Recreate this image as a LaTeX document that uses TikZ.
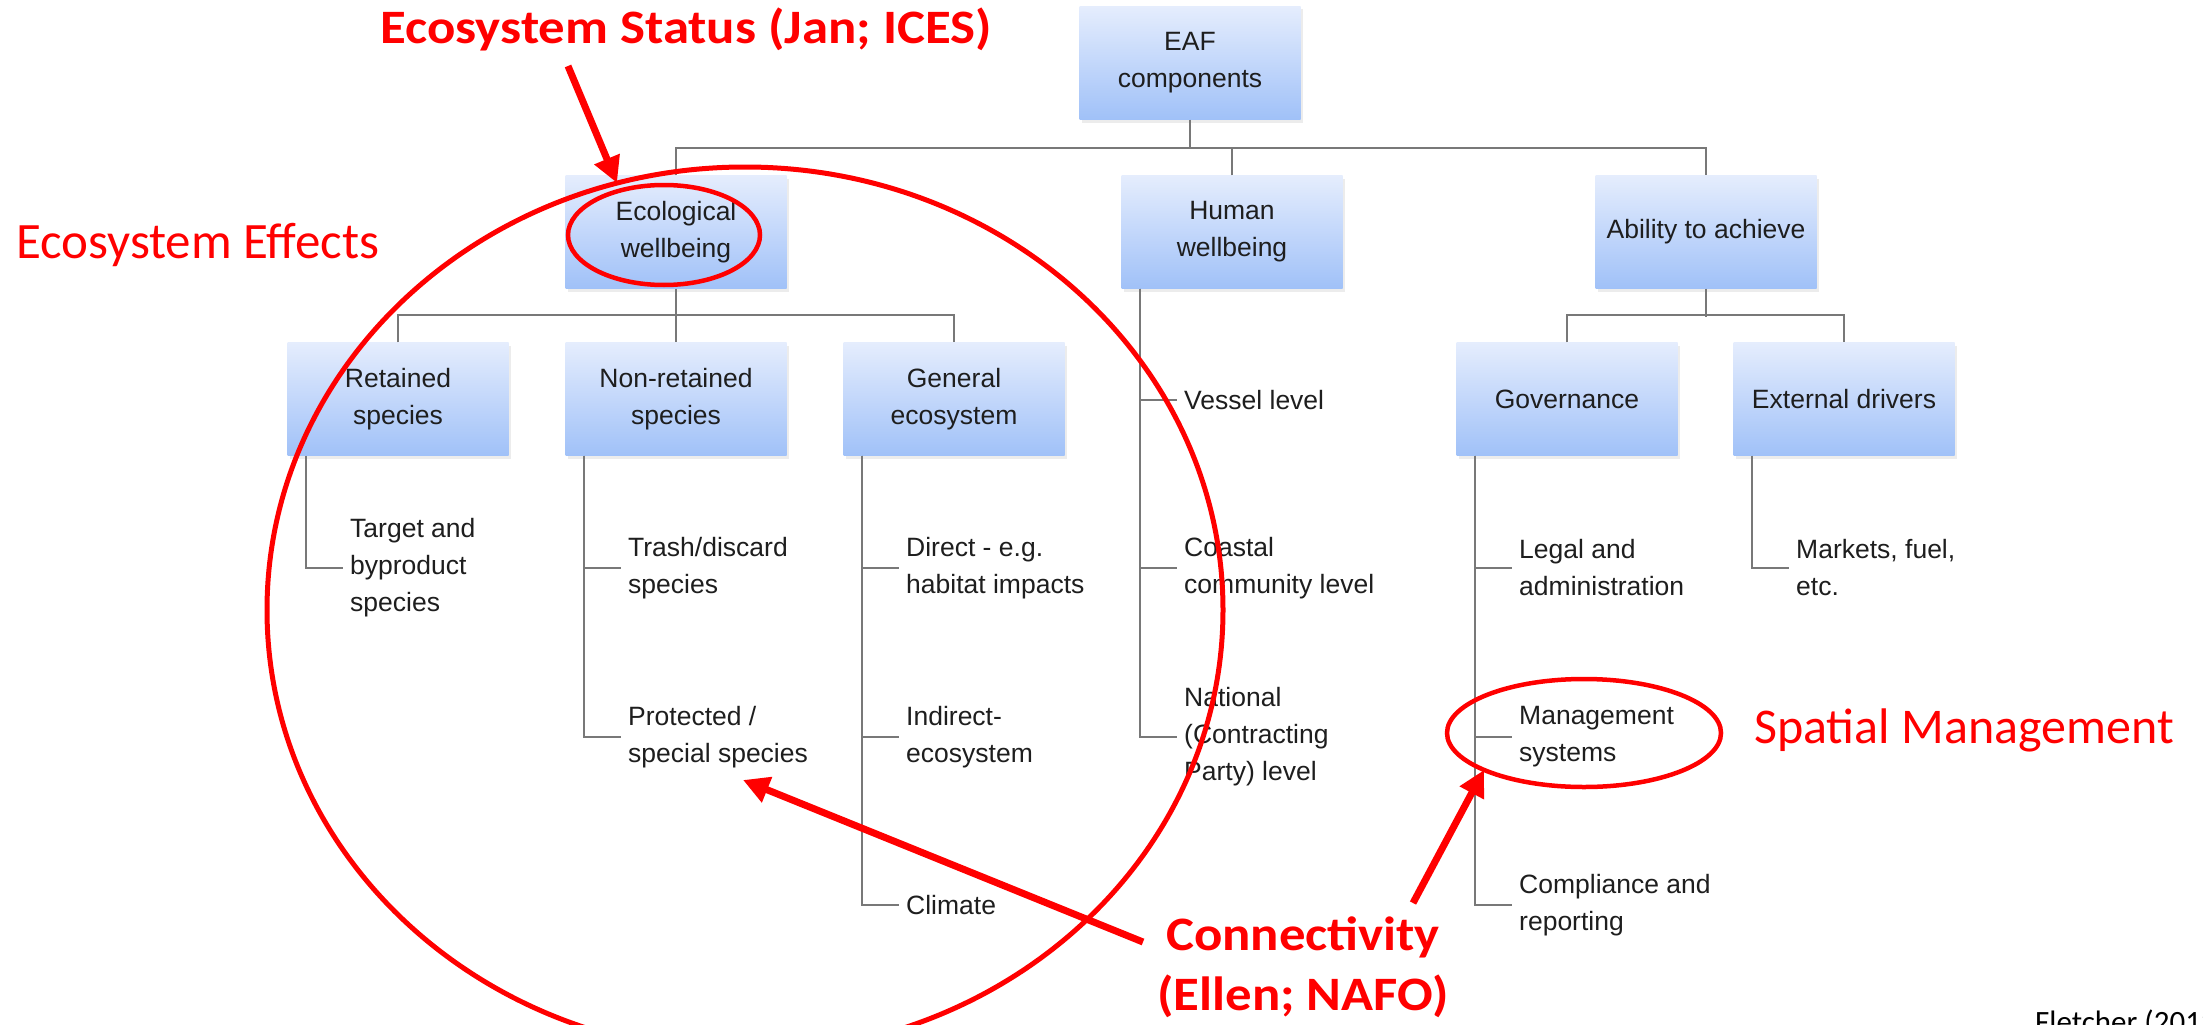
\documentclass[tikz,border=0pt]{standalone}
\usepackage{graphicx}
\usepackage{fontspec}
\setmainfont{Liberation Sans}
\newfontfamily\redfont{Carlito}
\usetikzlibrary{arrows.meta,shadows}
\definecolor{boxtop}{RGB}{229,237,253}
\definecolor{boxbot}{RGB}{160,193,248}
\definecolor{linegray}{RGB}{120,120,120}
\definecolor{txt}{RGB}{30,30,30}
\definecolor{annred}{RGB}{255,0,0}
\begin{document}
\begin{tikzpicture}[x=1pt,y=-1pt,
  box/.style={rectangle, minimum width=221pt, minimum height=113pt, inner sep=0pt, align=center,
    top color=boxtop, bottom color=boxbot, draw=none, font=\fontsize{26.5}{37}\selectfont, text=txt,
    drop shadow={opacity=0.15, shadow xshift=2pt, shadow yshift=-3pt}},
  leaf/.style={anchor=west, inner sep=0pt, align=left, font=\fontsize{26.5}{37}\selectfont, text=txt},
  conn/.style={draw=linegray, line width=1.8pt},
  leafconn/.style={conn, shorten >=7pt},
  ring/.style={draw=annred, line width=#1},
  redarrow/.style={draw=annred, line width=7pt, -{Triangle[length=26pt,width=26pt]}},
  redreg/.style={text=annred, inner sep=0pt, font=\fontsize{#1}{#1}\redfont},
  redbold/.style={text=annred, inner sep=0pt, font=\fontsize{#1}{#1}\redfont\bfseries}
]
\useasboundingbox (0,0) rectangle (2203,1025);
\fill[white] (0,0) rectangle (2203,1025);
\clip (0,0) rectangle (2203,1025);

% boxes
\node[box] (eaf) at (1190,63) {EAF\\components};
\node[box] (eco) at (676,232) {Ecological\\wellbeing};
\node[box] (hum) at (1232,232) {Human\\wellbeing};
\node[box] (abl) at (1706,232) {Ability to achieve};
\node[box] (ret) at (398,399) {Retained\\species};
\node[box] (non) at (676,399) {Non-retained\\species};
\node[box] (gen) at (954,399) {General\\ecosystem};
\node[box] (gov) at (1567,399) {Governance};
\node[box] (ext) at (1844,399) {External drivers};

% tree connectors
\draw[conn] (eaf.south) -- ++(0,29);
\draw[conn] (eco.north) -- ++(0,-27) -| (abl.north);
\draw[conn] (hum.north) -- ++(0,-27);
\draw[conn] (ret.north) -- ++(0,-27) -| (gen.north);
\draw[conn] (eco.south) -- (non.north);
\draw[conn] (gov.north) -- ++(0,-27) -| (ext.north);
\draw[conn] (abl.south) -- ++(0,28);

% leaves
\node[leaf] (tgt) at (350,568) {Target and\\byproduct\\species};
\node[leaf] (trs) at (628,568) {Trash/discard\\species};
\node[leaf] (pro) at (628,737) {Protected /\\special species};
\node[leaf] (dir) at (906,568) {Direct - e.g.\\habitat impacts};
\node[leaf] (ind) at (906,737) {Indirect-\\ecosystem};
\node[leaf] (cli) at (906,905) {Climate};
\node[leaf] (ves) at (1184,400) {Vessel level};
\node[leaf] (coa) at (1184,568) {Coastal\\community level};
\node[leaf] (nat) at (1184,737) {National\\(Contracting\\Party) level};
\node[leaf] (leg) at (1519,568) {Legal and\\administration};
\node[leaf] (man) at (1519,737) {Management\\systems};
\node[leaf] (com) at (1519,905) {Compliance and\\reporting};
\node[leaf] (mkt) at (1796,568) {Markets, fuel,\\etc.};

\draw[leafconn] ([xshift=19pt]ret.south west) |- (tgt.west);
\draw[leafconn] ([xshift=19pt]non.south west) |- (trs.west);
\draw[leafconn] ([xshift=19pt]non.south west) |- (pro.west);
\draw[leafconn] ([xshift=19pt]gen.south west) |- (dir.west);
\draw[leafconn] ([xshift=19pt]gen.south west) |- (ind.west);
\draw[leafconn] ([xshift=19pt]gen.south west) |- (cli.west);
\draw[leafconn] ([xshift=19pt]hum.south west) |- (ves.west);
\draw[leafconn] ([xshift=19pt]hum.south west) |- (coa.west);
\draw[leafconn] ([xshift=19pt]hum.south west) |- (nat.west);
\draw[leafconn] ([xshift=19pt]gov.south west) |- (leg.west);
\draw[leafconn] ([xshift=19pt]gov.south west) |- (man.west);
\draw[leafconn] ([xshift=19pt]gov.south west) |- (com.west);
\draw[leafconn] ([xshift=19pt]ext.south west) |- (mkt.west);

% red annotations
\draw[ring=5pt] (745,610) ellipse [x radius=478, y radius=443];
\draw[ring=4.5pt] (664,235) ellipse [x radius=96, y radius=50];
\draw[ring=4.5pt] (1584,733) ellipse [x radius=137, y radius=54];

\node[redbold=48, anchor=base] (status) at (686,44) {\scalebox{1.1}[1]{Ecosystem Status (Jan; ICES)}};
\node[redreg=51, anchor=base west] (effects) at (16,258) {Ecosystem Effects};
\node[redreg=50, anchor=base west] (spatial) at (1754,743) {Spatial Management};
\node[redbold=48, anchor=base] (conn1) at (1303,950) {\scalebox{1.1}[1]{Connectivity}};
\node[redbold=48, anchor=base] (conn2) at (1303,1010) {\scalebox{1.1}[1]{(Ellen; NAFO)}};
\node[inner sep=0pt, anchor=base west, font=\fontsize{31}{31}\redfont, text=black] (cite) at (2035,1032) {Fletcher (2012)};

\coordinate (s1) at (568,66);
\coordinate (t1) at (617,183);
\coordinate (s2) at (1143,942);
\coordinate (t2) at (743,780);
\coordinate (s3) at (1413,903);
\coordinate (t3) at (1484,770);
\draw[redarrow] (s1) -- (t1);
\draw[redarrow] (s2) -- (t2);
\draw[redarrow] (s3) -- (t3);
\end{tikzpicture}
\end{document}
